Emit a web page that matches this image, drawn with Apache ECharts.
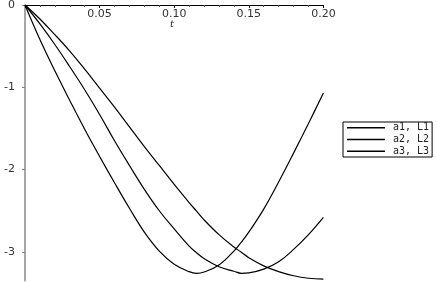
<!DOCTYPE html>
<html>
<head>
<meta charset="utf-8">
<script src="https://cdn.jsdelivr.net/npm/echarts@6/dist/echarts.min.js"></script>
<style>
html,body{margin:0;padding:0;background:#fff;}
#chart{width:436px;height:282px;}
</style>
</head>
<body>
<div id="chart"></div>
<script>
var tValues = [0, 0.01, 0.02, 0.03, 0.04, 0.05, 0.06, 0.07, 0.08, 0.09, 0.10, 0.11, 0.115, 0.12, 0.13, 0.14, 0.145, 0.15, 0.16, 0.17, 0.18, 0.19, 0.20];
var seriesNames = ['a1, L1', 'a2, L2', 'a3, L3'];
var curve1 = [0, -0.42, -0.80, -1.16, -1.51, -1.84, -2.16, -2.47, -2.76, -2.99, -3.15, -3.24, -3.26, -3.245, -3.16, -2.99, -2.88, -2.76, -2.48, -2.15, -1.80, -1.44, -1.07];
var curve2 = [0, -0.23, -0.48, -0.75, -1.03, -1.33, -1.65, -1.95, -2.24, -2.50, -2.72, -2.93, -3.01, -3.08, -3.18, -3.235, -3.26, -3.255, -3.21, -3.12, -2.97, -2.79, -2.58];
var curve3 = [0, -0.17, -0.36, -0.56, -0.78, -1.01, -1.24, -1.48, -1.72, -1.95, -2.18, -2.40, -2.505, -2.61, -2.79, -2.94, -3.005, -3.07, -3.17, -3.24, -3.29, -3.32, -3.33];
var yTickValues = [0, -1, -2, -3];

function pairs(vals) {
  return tValues.map(function (t, i) { return [t, vals[i]]; });
}

var chart = echarts.init(document.getElementById('chart'), null, {renderer: 'canvas'});
var lineStyle = {color: '#000', width: 1.2};
var curves = [curve1, curve2, curve3];
chart.setOption({
  animation: false,
  backgroundColor: '#fff',
  grid: {left: 25, right: 112.6, top: 5, bottom: 1.3, outerBoundsMode: 'none', containLabel: false},
  xAxis: {
    type: 'value', min: 0, max: 0.2, interval: 0.05, position: 'top',
    axisLine: {show: true, onZero: true, lineStyle: {color: '#000', width: 1}},
    axisTick: {show: true, inside: true, length: 3, lineStyle: {color: '#000'}},
    minorTick: {show: true, splitNumber: 5, length: 2, lineStyle: {color: '#555'}},
    axisLabel: {inside: true, margin: 4, fontSize: 11, color: '#333', fontFamily: 'DejaVu Sans',
      formatter: function (v) { return v === 0 ? '' : v.toFixed(2); }},
    splitLine: {show: false}
  },
  yAxis: {
    type: 'value', min: -3.35, max: 0,
    axisLine: {show: true, onZero: false, lineStyle: {color: '#888', width: 1.5}},
    axisTick: {show: true, length: 3, customValues: yTickValues, lineStyle: {color: '#888'}},
    axisLabel: {margin: 10, fontSize: 11, color: '#333', fontFamily: 'DejaVu Sans', customValues: yTickValues},
    splitLine: {show: false}
  },
  graphic: [{
    type: 'text', left: 170, top: 19,
    style: {text: 't', fontSize: 10, fontStyle: 'italic', fill: '#222', fontFamily: 'DejaVu Serif'}
  }],
  legend: {
    orient: 'vertical', left: 343, top: 122,
    padding: [0, 3, 0, 4], itemGap: 0,
    itemWidth: 38, itemHeight: 1.5, icon: 'rect',
    borderColor: '#000', borderWidth: 1,
    textStyle: {fontSize: 10, color: '#222', fontFamily: 'DejaVu Sans Mono', lineHeight: 11.67, padding: [0, 0, 0, 3]},
    data: seriesNames
  },
  series: curves.map(function (c, i) {
    return {
      name: seriesNames[i], type: 'line', data: pairs(c), smooth: 0.4,
      symbol: 'none', showSymbol: false, lineStyle: lineStyle, itemStyle: {color: '#000'}
    };
  })
});
</script>
</body>
</html>
